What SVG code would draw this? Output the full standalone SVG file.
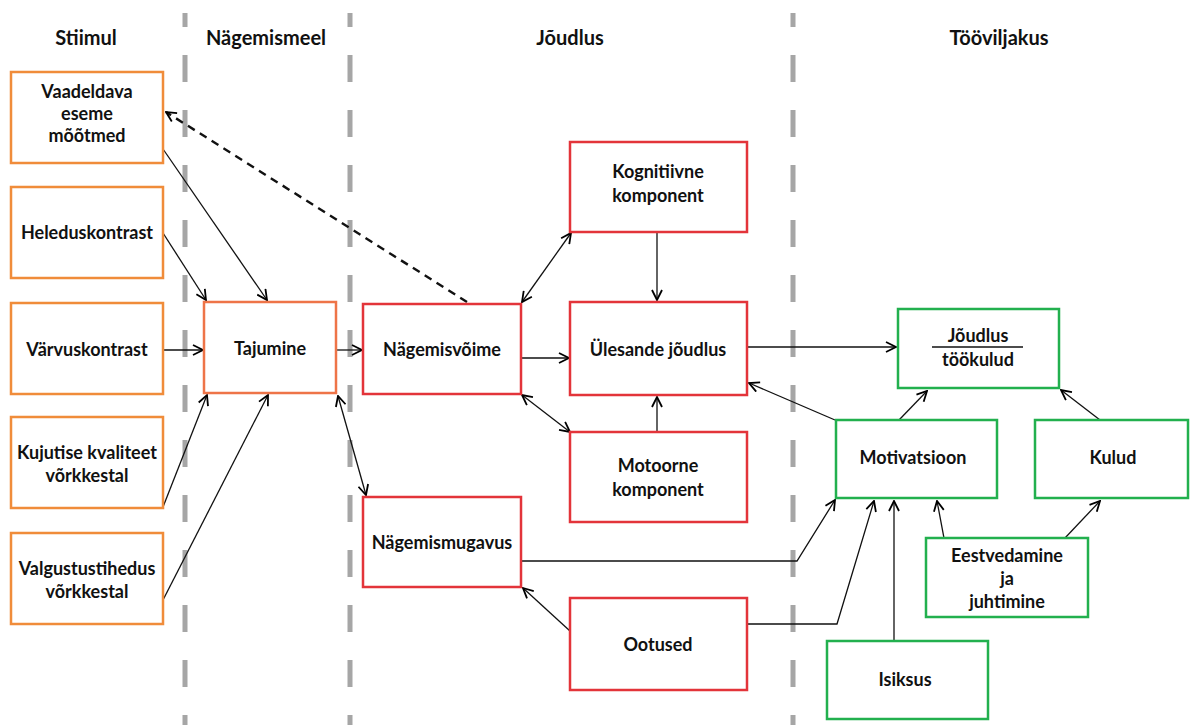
<svg xmlns="http://www.w3.org/2000/svg" width="1190" height="725" viewBox="0 0 1190 725">
<defs>
<marker id="ah" viewBox="0 0 12 12" refX="11" refY="6" markerWidth="12" markerHeight="12" markerUnits="userSpaceOnUse" orient="auto-start-reverse">
<path d="M1,1 L11,6 L1,11" fill="none" stroke="#000" stroke-width="1.8"/>
</marker>
<style>
.lane{stroke:#A6A6A6;stroke-width:5;stroke-dasharray:27 28;stroke-dashoffset:13;fill:none}
.hdr{font-family:Lato,"Liberation Sans",sans-serif;font-weight:bold;font-size:20px;text-anchor:middle;fill:#111}
.t{font-family:Lato,"Liberation Sans",sans-serif;font-weight:bold;font-size:18px;text-anchor:middle;fill:#111}
.or{fill:#fff;stroke:#F08C3A;stroke-width:2.5}
.or2{fill:#fff;stroke:#EE7448;stroke-width:2.5}
.rd{fill:#fff;stroke:#E3343A;stroke-width:2.5}
.gr{fill:#fff;stroke:#22B04E;stroke-width:2.5}
.c{stroke:#111;stroke-width:1.3;fill:none;marker-end:url(#ah)}
.cb{stroke:#111;stroke-width:1.3;fill:none;marker-end:url(#ah);marker-start:url(#ah)}
.cd{stroke:#111;stroke-width:2.4;fill:none;stroke-dasharray:8 6;marker-end:url(#ah)}
</style>
</defs>
<rect width="1190" height="725" fill="#fff"/>
<g id="lanes">
<line class="lane" x1="185" y1="13" x2="185" y2="725"/>
<line class="lane" x1="350" y1="13" x2="350" y2="725"/>
<line class="lane" x1="793" y1="13" x2="793" y2="725"/>
</g>
<g id="headers">
<text class="hdr" x="86" y="45">Stiimul</text>
<text class="hdr" x="266" y="45">Nägemismeel</text>
<text class="hdr" x="570" y="45">Jõudlus</text>
<text class="hdr" x="999" y="45">Tööviljakus</text>
</g>
<g id="connectors">
<line class="c" x1="163" y1="149" x2="267" y2="300"/>
<line class="c" x1="163" y1="233" x2="206" y2="300"/>
<line class="c" x1="163" y1="350" x2="203" y2="350"/>
<line class="c" x1="163" y1="507" x2="207" y2="395"/>
<line class="c" x1="163" y1="600" x2="268" y2="395"/>
<line class="c" x1="337" y1="350" x2="362" y2="350"/>
<line class="cb" x1="338" y1="396" x2="366" y2="495"/>
<line class="cd" x1="467" y1="302" x2="166" y2="112"/>
<line class="cb" x1="522" y1="302" x2="571" y2="233"/>
<line class="c" x1="522" y1="358" x2="569" y2="358"/>
<line class="cb" x1="522" y1="395" x2="570" y2="432"/>
<line class="c" x1="657" y1="232" x2="657" y2="300"/>
<line class="c" x1="657" y1="432" x2="657" y2="397"/>
<line class="c" x1="748" y1="347" x2="896" y2="347"/>
<line class="c" x1="835" y1="420" x2="749" y2="383"/>
<line class="c" x1="899" y1="420" x2="927" y2="391"/>
<line class="c" x1="1100" y1="420" x2="1061" y2="390"/>
<polyline class="c" points="522,561 797,561 835,500"/>
<polyline class="c" points="748,624 837,624 874,501"/>
<line class="c" x1="894" y1="641" x2="894" y2="501"/>
<line class="c" x1="944" y1="538" x2="937" y2="501"/>
<line class="c" x1="1065" y1="538" x2="1100" y2="501"/>
<line class="c" x1="570" y1="631" x2="523" y2="588"/>
</g>
<g id="n1"><rect class="or" x="11" y="72" width="152" height="91"/>
<text class="t" x="87" y="98">Vaadeldava</text><text class="t" x="87" y="120">eseme</text><text class="t" x="87" y="142">mõõtmed</text></g>
<g id="n2"><rect class="or" x="11" y="187" width="152" height="91"/>
<text class="t" x="87" y="239">Heleduskontrast</text></g>
<g id="n3"><rect class="or" x="11" y="303" width="152" height="91"/>
<text class="t" x="87" y="356">Värvuskontrast</text></g>
<g id="n4"><rect class="or" x="11" y="417" width="152" height="91"/>
<text class="t" x="87" y="459">Kujutise kvaliteet</text><text class="t" x="87" y="482">võrkkestal</text></g>
<g id="n5"><rect class="or" x="11" y="533" width="152" height="91"/>
<text class="t" x="87" y="575">Valgustustihedus</text><text class="t" x="87" y="598">võrkkestal</text></g>
<g id="tajumine"><rect class="or2" x="204" y="302" width="132" height="91"/>
<text class="t" x="270" y="355">Tajumine</text></g>
<g id="nagemisvoime"><rect class="rd" x="363" y="304" width="158" height="90"/>
<text class="t" x="442" y="356">Nägemisvõime</text></g>
<g id="kognitiivne"><rect class="rd" x="570" y="142" width="177" height="90"/>
<text class="t" x="658" y="178">Kognitiivne</text><text class="t" x="658" y="202">komponent</text></g>
<g id="ulesande"><rect class="rd" x="570" y="302" width="177" height="93"/>
<text class="t" x="658" y="356">Ülesande jõudlus</text></g>
<g id="motoorne"><rect class="rd" x="570" y="432" width="177" height="90"/>
<text class="t" x="658" y="472">Motoorne</text><text class="t" x="658" y="496">komponent</text></g>
<g id="nagemismugavus"><rect class="rd" x="363" y="497" width="158" height="90"/>
<text class="t" x="442" y="549">Nägemismugavus</text></g>
<g id="ootused"><rect class="rd" x="570" y="598" width="177" height="92"/>
<text class="t" x="658" y="651">Ootused</text></g>
<g id="joudlus-tookulud"><rect class="gr" x="898" y="309" width="161" height="79"/>
<text class="t" x="978" y="342">Jõudlus</text>
<line x1="932" y1="347" x2="1023" y2="347" stroke="#111" stroke-width="1.3"/>
<text class="t" x="978" y="366">töökulud</text></g>
<g id="motivatsioon"><rect class="gr" x="836" y="420" width="161" height="78"/>
<text class="t" x="913" y="464">Motivatsioon</text></g>
<g id="kulud"><rect class="gr" x="1035" y="420" width="153" height="78"/>
<text class="t" x="1113" y="464">Kulud</text></g>
<g id="eestvedamine"><rect class="gr" x="926" y="538" width="162" height="79"/>
<text class="t" x="1007" y="562">Eestvedamine</text><text class="t" x="1007" y="585">ja</text><text class="t" x="1007" y="608">juhtimine</text></g>
<g id="isiksus"><rect class="gr" x="827" y="641" width="161" height="78"/>
<text class="t" x="905" y="686">Isiksus</text></g>
</svg>
